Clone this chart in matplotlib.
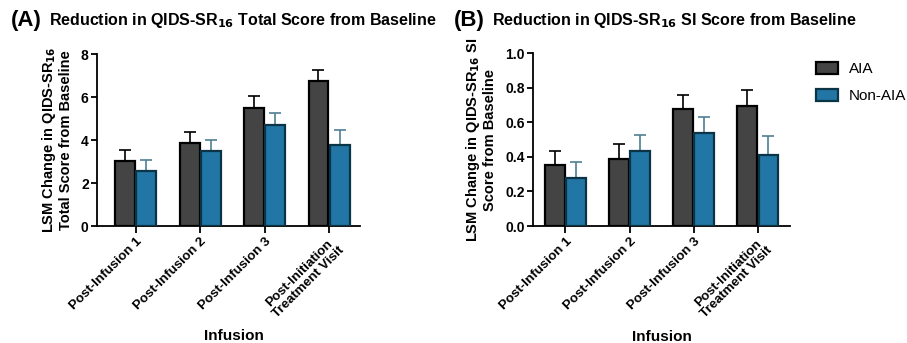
import matplotlib.pyplot as plt
import numpy as np
from matplotlib.patches import Patch

plt.rcParams["font.family"] = ["Liberation Sans", "DejaVu Sans"]

categories = ["Post-Infusion 1", "Post-Infusion 2", "Post-Infusion 3",
              "Post-Initiation\nTreatment Visit"]

# panel A: total score
total_aia = [3.02, 3.87, 5.51, 6.73]
total_aia_err = [0.50, 0.50, 0.53, 0.53]
total_non = [2.54, 3.48, 4.69, 3.79]
total_non_err = [0.53, 0.54, 0.56, 0.68]

# panel B: SI score
si_aia = [0.352, 0.389, 0.675, 0.694]
si_aia_err = [0.080, 0.083, 0.083, 0.095]
si_non = [0.280, 0.435, 0.536, 0.410]
si_non_err = [0.090, 0.091, 0.096, 0.112]

dark_face, dark_edge = "#444444", "#000000"
blue_face, blue_edge = "#2176a5", "#0b3446"
blue_err = "#4f7f93"

fig = plt.figure(figsize=(9.07, 3.43), dpi=100)
ax_a = fig.add_axes([0.107, 0.341, 0.290, 0.501])
ax_b = fig.add_axes([0.588, 0.341, 0.283, 0.504])

x = np.arange(len(categories))
w = 0.31


def draw_panel(ax, aia, aia_err, non, non_err):
    ax.bar(x - w / 2 - 0.01, aia, w, color=dark_face, edgecolor=dark_edge,
           linewidth=1.6, zorder=3)
    ax.bar(x + w / 2 + 0.01, non, w, color=blue_face, edgecolor=blue_edge,
           linewidth=1.6, zorder=3)
    ax.errorbar(x - w / 2 - 0.01, aia, yerr=[np.zeros(4), aia_err], fmt="none",
                ecolor="black", elinewidth=1.2, capsize=4, capthick=1.2, zorder=2)
    ax.errorbar(x + w / 2 + 0.01, non, yerr=[np.zeros(4), non_err], fmt="none",
                ecolor=blue_err, elinewidth=1.2, capsize=4, capthick=1.2, zorder=2)
    ax.spines["top"].set_visible(False)
    ax.spines["right"].set_visible(False)
    ax.spines["left"].set_linewidth(1.3)
    ax.spines["bottom"].set_linewidth(1.3)
    ax.set_xticks(x)
    ax.set_xticklabels(categories, rotation=45, ha="right", rotation_mode="anchor",
                       fontsize=9.6, fontweight="bold", linespacing=1.0,
                       multialignment="center")
    ax.tick_params(axis="x", length=5, width=1.3, pad=2)
    ax.tick_params(axis="y", length=4, width=1.3, labelsize=10, pad=2)
    ax.set_xlabel("Infusion", fontsize=11, fontweight="bold")


draw_panel(ax_a, total_aia, total_aia_err, total_non, total_non_err)
ax_a.set_xlim(-0.6, 3.48)
ax_a.set_ylim(0, 8)
ax_a.set_yticks([0, 2, 4, 6, 8])
ax_a.set_yticklabels(["0", "2", "4", "6", "8"], fontweight="bold")
ax_a.set_ylabel("LSM Change in QIDS-SR$_{\\mathbf{16}}$\nTotal Score from Baseline",
                fontsize=10.5, fontweight="bold", linespacing=1.1, labelpad=6)

draw_panel(ax_b, si_aia, si_aia_err, si_non, si_non_err)
ax_b.set_xlim(-0.5, 3.5)
ax_b.set_ylim(0, 1.0)
ax_b.set_yticks([0.0, 0.2, 0.4, 0.6, 0.8, 1.0])
ax_b.set_yticklabels(["0.0", "0.2", "0.4", "0.6", "0.8", "1.0"], fontweight="bold")
ax_b.set_ylabel("LSM Change in QIDS-SR$_{\\mathbf{16}}$ SI\nScore from Baseline",
                fontsize=10.5, fontweight="bold", linespacing=1.1, labelpad=6)

ax_a.xaxis.set_label_coords(0.52, -0.60)
ax_b.xaxis.set_label_coords(0.5, -0.60)

fig.text(0.012, 0.94, "(A)", fontsize=16, fontweight="bold", va="center")
fig.text(0.054, 0.94, "Reduction in QIDS-SR$_{\\mathbf{16}}$ Total Score from Baseline",
         fontsize=11.5, fontweight="bold", va="center")
fig.text(0.500, 0.94, "(B)", fontsize=16, fontweight="bold", va="center")
fig.text(0.542, 0.94, "Reduction in QIDS-SR$_{\\mathbf{16}}$ SI Score from Baseline",
         fontsize=11.5, fontweight="bold", va="center")

handles = [Patch(facecolor=dark_face, edgecolor=dark_edge, linewidth=1.6, label="AIA"),
           Patch(facecolor=blue_face, edgecolor=blue_edge, linewidth=1.6, label="Non-AIA")]
fig.legend(handles=handles, loc="upper left", bbox_to_anchor=(0.885, 0.86),
           frameon=False, fontsize=11, handlelength=1.4, handleheight=0.9,
           labelspacing=0.8, handletextpad=0.7)

fig.savefig("out.png", dpi=100)
